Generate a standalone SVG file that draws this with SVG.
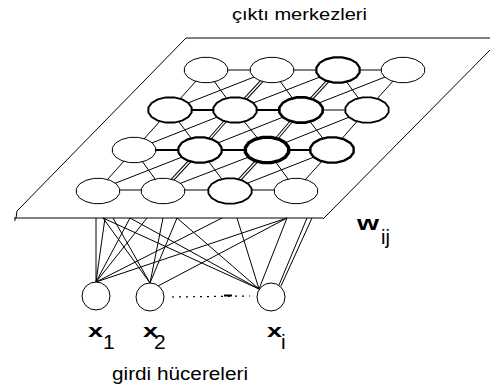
<svg xmlns="http://www.w3.org/2000/svg" xmlns:xlink="http://www.w3.org/1999/xlink" width="490" height="392" viewBox="0 0 490 392">
<style>
  .ln{stroke:#000;stroke-width:1;fill:none}
  .thk{stroke:#000;stroke-width:2.2;fill:none}
  .dbl{stroke:#000;stroke-width:3.4;fill:none}
  .dblw{stroke:#fff;stroke-width:1.4;fill:none}
  .nd{fill:#fff;stroke:#000}
  .t{font-family:"Liberation Sans",Arial,sans-serif;fill:#000}
</style>
<defs>
  <polygon id="oct" points="21.6,2.5 18.3,7.1 12.2,10.6 4.3,12.6 -4.3,12.6 -12.2,10.6 -18.3,7.1 -21.6,2.5 -21.6,-2.5 -18.3,-7.1 -12.2,-10.6 -4.3,-12.6 4.3,-12.6 12.2,-10.6 18.3,-7.1 21.6,-2.5"/>
</defs>
<rect width="490" height="392" fill="#fff"/>

<g id="plane" class="ln">
  <line x1="186" y1="38" x2="490" y2="38"/>
  <polyline points="186,38 17,211 16,218"/>
  <line x1="497" y1="43" x2="323" y2="219"/>
  <line x1="14" y1="218" x2="323" y2="218"/>
  <line x1="15" y1="218" x2="15" y2="221"/>
</g>

<text class="t" x="232" y="20" font-size="17" textLength="135" lengthAdjust="spacingAndGlyphs">çıktı merkezleri</text>

<g id="connectors">
  <g class="ln">
    <line x1="206" y1="70" x2="272" y2="70"/>
    <line x1="272" y1="70" x2="338" y2="70"/>
    <line x1="338" y1="70" x2="403" y2="70"/>
    <line x1="301" y1="110" x2="367" y2="110"/>
    <line x1="98" y1="190" x2="163" y2="190"/>
    <line x1="163" y1="190" x2="230" y2="190"/>
    <line x1="230" y1="190" x2="296" y2="190"/>
  </g>
  <g class="thk">
    <line x1="170" y1="110" x2="235" y2="110"/>
    <line x1="235" y1="110" x2="301" y2="110"/>
    <line x1="134" y1="150" x2="200" y2="150"/>
    <line x1="200" y1="150" x2="267" y2="150"/>
    <line x1="267" y1="150" x2="332" y2="150"/>
  </g>
  <g class="ln">
    <line x1="206" y1="70" x2="170" y2="110"/>
    <line x1="403" y1="70" x2="367" y2="110"/>
    <line x1="170" y1="110" x2="134" y2="150"/>
    <line x1="367" y1="110" x2="332" y2="150"/>
    <line x1="134" y1="150" x2="98" y2="190"/>
    <line x1="332" y1="150" x2="296" y2="190"/>
  </g>
  <g class="dbl">
    <line x1="272" y1="70" x2="235" y2="110"/>
    <line x1="338" y1="70" x2="301" y2="110"/>
    <line x1="235" y1="110" x2="200" y2="150"/>
    <line x1="301" y1="110" x2="267" y2="150"/>
    <line x1="200" y1="150" x2="163" y2="190"/>
    <line x1="267" y1="150" x2="230" y2="190"/>
  </g>
  <g class="dblw">
    <line x1="272" y1="70" x2="235" y2="110"/>
    <line x1="338" y1="70" x2="301" y2="110"/>
    <line x1="235" y1="110" x2="200" y2="150"/>
    <line x1="301" y1="110" x2="267" y2="150"/>
    <line x1="200" y1="150" x2="163" y2="190"/>
    <line x1="267" y1="150" x2="230" y2="190"/>
  </g>
  <g class="ln">
    <line x1="206" y1="70" x2="235" y2="110"/>
    <line x1="272" y1="70" x2="301" y2="110"/>
    <line x1="338" y1="70" x2="367" y2="110"/>
    <line x1="170" y1="110" x2="200" y2="150"/>
    <line x1="235" y1="110" x2="267" y2="150"/>
    <line x1="301" y1="110" x2="332" y2="150"/>
    <line x1="134" y1="150" x2="163" y2="190"/>
    <line x1="200" y1="150" x2="230" y2="190"/>
    <line x1="267" y1="150" x2="296" y2="190"/>
  </g>
  <g class="ln">
    <line x1="272" y1="70" x2="170" y2="110"/>
    <line x1="338" y1="70" x2="235" y2="110"/>
    <line x1="403" y1="70" x2="301" y2="110"/>
    <line x1="235" y1="110" x2="134" y2="150"/>
    <line x1="301" y1="110" x2="200" y2="150"/>
    <line x1="367" y1="110" x2="267" y2="150"/>
    <line x1="200" y1="150" x2="98" y2="190"/>
    <line x1="267" y1="150" x2="163" y2="190"/>
    <line x1="332" y1="150" x2="230" y2="190"/>
  </g>
  <g class="ln">
    <line x1="96" y1="218" x2="96" y2="282"/>
    <line x1="96" y1="282" x2="105" y2="218"/>
    <line x1="96" y1="282" x2="130" y2="218"/>
    <line x1="96" y1="282" x2="147" y2="218"/>
    <line x1="96" y1="282" x2="222" y2="218"/>
    <line x1="96" y1="282" x2="287" y2="218"/>
    <line x1="150" y1="283" x2="103" y2="218"/>
    <line x1="150" y1="283" x2="113" y2="218"/>
    <line x1="150" y1="283" x2="163" y2="218"/>
    <line x1="150" y1="283" x2="177" y2="218"/>
    <line x1="158" y1="286" x2="287" y2="218"/>
    <line x1="259" y1="289" x2="103" y2="218"/>
    <line x1="259" y1="289" x2="130" y2="218"/>
    <line x1="259" y1="289" x2="177" y2="218"/>
    <line x1="259" y1="289" x2="237" y2="218"/>
    <line x1="259" y1="289" x2="287" y2="218"/>
    <line x1="279" y1="285" x2="307" y2="218"/>
    <line x1="281" y1="286" x2="312" y2="218"/>
  </g>
  <line x1="172" y1="297" x2="250" y2="296" stroke="#000" stroke-width="1.2" stroke-dasharray="2,5"/>
  <line x1="224" y1="295.5" x2="232" y2="295.5" stroke="#000" stroke-width="2"/>
</g>

<g id="r1c1"><use xlink:href="#oct" href="#oct" x="206" y="70" class="nd" stroke-width="1"/></g>
<g id="r1c2"><use xlink:href="#oct" href="#oct" x="272" y="70" class="nd" stroke-width="1"/></g>
<g id="r1c3"><use xlink:href="#oct" href="#oct" x="338" y="70" class="nd" stroke-width="2.2"/></g>
<g id="r1c4"><use xlink:href="#oct" href="#oct" x="403" y="70" class="nd" stroke-width="1"/></g>
<g id="r2c1"><use xlink:href="#oct" href="#oct" x="170" y="110" class="nd" stroke-width="2"/></g>
<g id="r2c2"><use xlink:href="#oct" href="#oct" x="235" y="110" class="nd" stroke-width="2"/></g>
<g id="r2c3"><use xlink:href="#oct" href="#oct" x="301" y="110" class="nd" stroke-width="2.6"/></g>
<g id="r2c4"><use xlink:href="#oct" href="#oct" x="367" y="110" class="nd" stroke-width="1.8"/></g>
<g id="r3c1"><use xlink:href="#oct" href="#oct" x="134" y="150" class="nd" stroke-width="1"/></g>
<g id="r3c2"><use xlink:href="#oct" href="#oct" x="200" y="150" class="nd" stroke-width="2.2"/></g>
<g id="r3c3"><use xlink:href="#oct" href="#oct" x="267" y="150" class="nd" stroke-width="3.4"/></g>
<g id="r3c4"><use xlink:href="#oct" href="#oct" x="332" y="150" class="nd" stroke-width="2.4"/></g>
<g id="r4c1"><use xlink:href="#oct" href="#oct" x="98" y="191" class="nd" stroke-width="1"/></g>
<g id="r4c2"><use xlink:href="#oct" href="#oct" x="163" y="191" class="nd" stroke-width="1"/></g>
<g id="r4c3"><use xlink:href="#oct" href="#oct" x="230" y="191" class="nd" stroke-width="1.8"/></g>
<g id="r4c4"><use xlink:href="#oct" href="#oct" x="296" y="191" class="nd" stroke-width="1"/></g>

<g id="x1"><circle cx="96" cy="296" r="14" class="nd" stroke-width="1"/></g>
<g id="x2"><circle cx="150" cy="297" r="14" class="nd" stroke-width="1"/></g>
<g id="xi"><circle cx="271" cy="297" r="14" class="nd" stroke-width="1"/></g>

<text class="t" x="357" y="230" font-size="20" font-weight="bold" textLength="22" lengthAdjust="spacingAndGlyphs">w</text>
<text class="t" x="381" y="244" font-size="20">ij</text>

<text class="t" x="88" y="337" font-size="19" font-weight="bold" textLength="15" lengthAdjust="spacingAndGlyphs">x</text>
<text class="t" x="103" y="349" font-size="21">1</text>
<text class="t" x="143" y="337" font-size="19" font-weight="bold" textLength="15" lengthAdjust="spacingAndGlyphs">x</text>
<text class="t" x="154" y="349" font-size="21">2</text>
<text class="t" x="267" y="337" font-size="19" font-weight="bold" textLength="15" lengthAdjust="spacingAndGlyphs">x</text>
<text class="t" x="281" y="349" font-size="21">i</text>

<text class="t" x="112" y="380" font-size="18" textLength="136" lengthAdjust="spacingAndGlyphs">girdi hücereleri</text>
</svg>
